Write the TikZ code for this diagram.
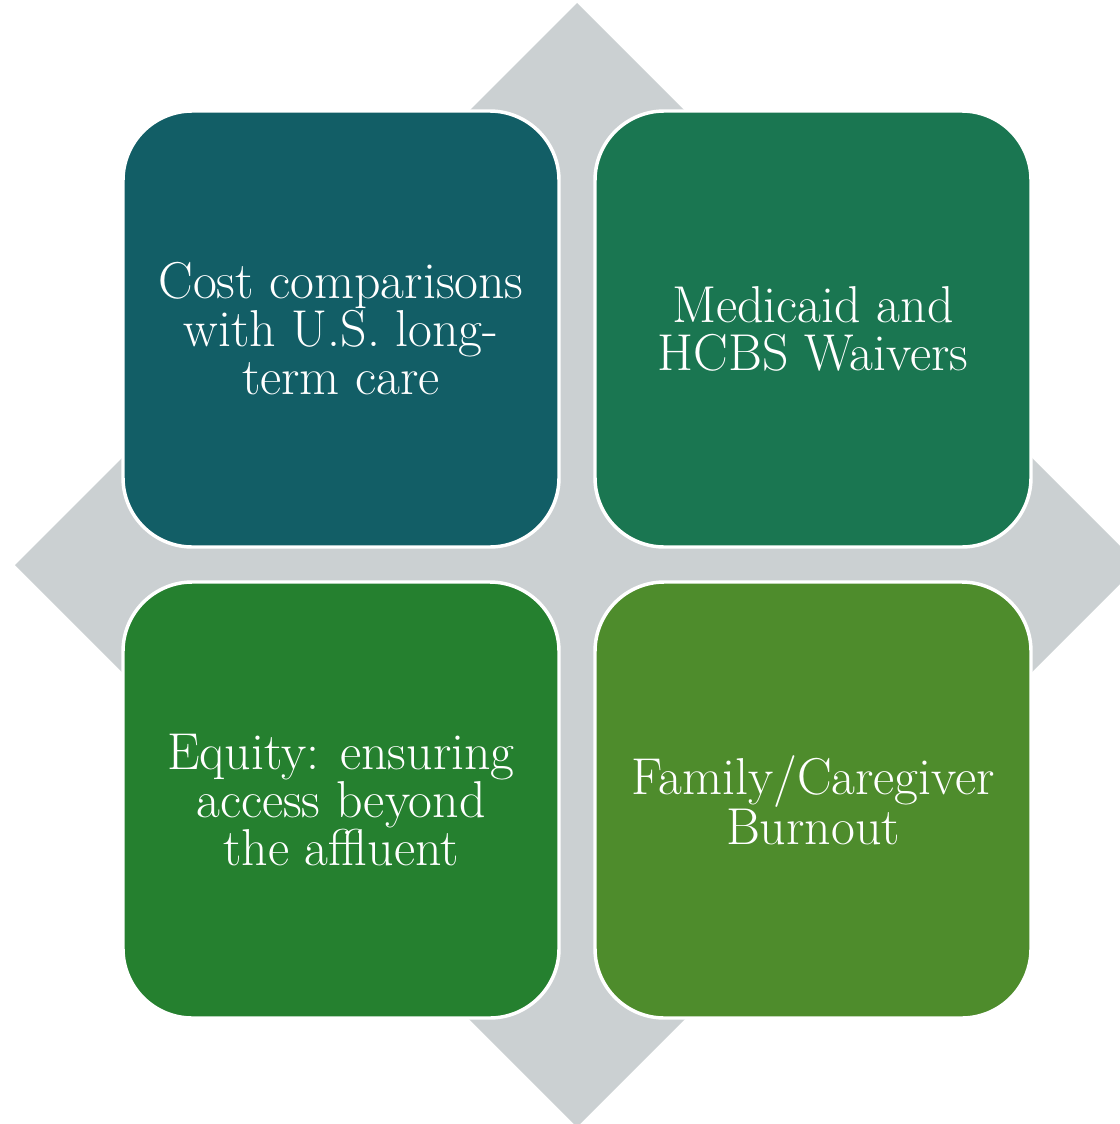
\documentclass[tikz,border=0pt]{standalone}
\usepackage{fontspec}
\definecolor{diagrey}{HTML}{CBD0D2}
\definecolor{boxteal}{HTML}{125E66}
\definecolor{boxsea}{HTML}{1A7651}
\definecolor{boxgreen}{HTML}{25802F}
\definecolor{boxleaf}{HTML}{4E8C2C}
\begin{document}
\begin{tikzpicture}[x=0.75pt,y=-0.75pt,
  quad/.style={rectangle, rounded corners=52pt, minimum width=327pt, minimum height=327pt,
    draw=white, line width=2.6pt, text=white, align=center, inner sep=0pt,
    font=\fontsize{38.9}{36}\selectfont}]
\useasboundingbox (0,0) rectangle (1120,1124);
\clip (0,0) rectangle (1120,1124);
\fill[diagrey] (577,3) -- (1139,565) -- (577,1127) -- (15,565) -- cycle;
\node[quad, fill=boxteal] (cost) at (341,329) {Cost comparisons\\with U.S. long-\\term care};
\node[quad, fill=boxsea] (medicaid) at (813,329) {Medicaid and\\HCBS Waivers};
\node[quad, fill=boxgreen] (equity) at (341,800) {Equity: ensuring\\access beyond\\the affluent};
\node[quad, fill=boxleaf] (family) at (813,800) {Family/Caregiver\\Burnout};
\end{tikzpicture}
\end{document}
